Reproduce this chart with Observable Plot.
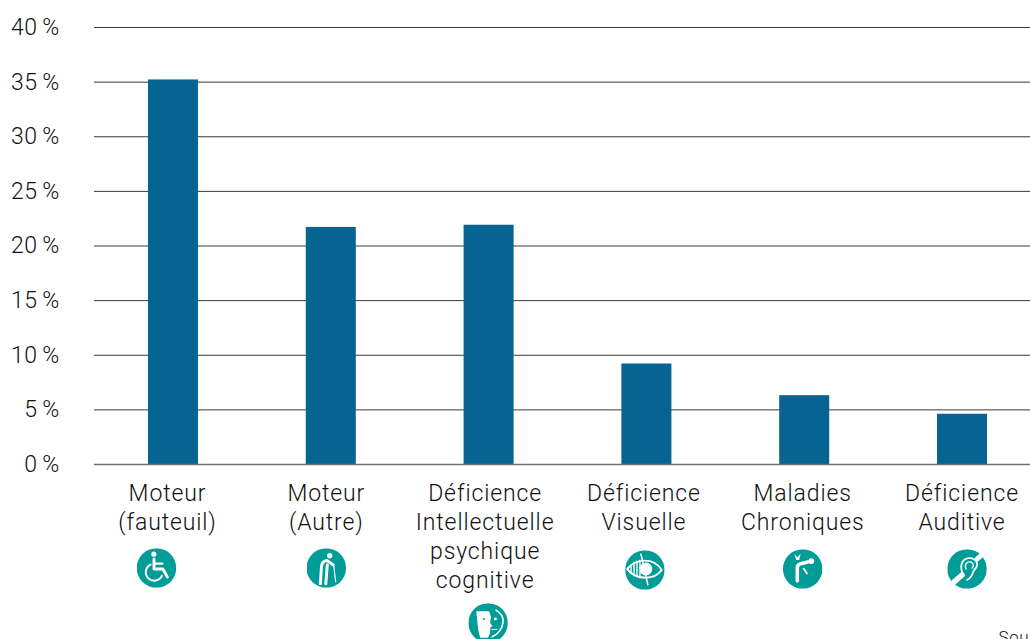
<!DOCTYPE html>
<html lang="fr">
<head>
<meta charset="utf-8">
<script src="https://cdn.jsdelivr.net/npm/d3@7"></script>
<script src="https://cdn.jsdelivr.net/npm/@observablehq/plot@0.6"></script>
<style>
  html, body { margin: 0; padding: 0; background: #fff; overflow: hidden; }
  svg { display: block; }
  .tick-text { letter-spacing: 0.3px; }
  .cat-text { letter-spacing: 0.88px; }
  .src-text { letter-spacing: 0.6px; }
</style>
</head>
<body>
<div id="chart"></div>
<script>
// Répartition par type de handicap
const categories = ["Moteur (fauteuil)", "Moteur (Autre)", "Déficience Intellectuelle", "Déficience Visuelle", "Maladies Chroniques", "Déficience Auditive"];
const labels = ["Moteur\n(fauteuil)", "Moteur\n(Autre)", "Déficience\nIntellectuelle\npsychique\ncognitive", "Déficience\nVisuelle", "Maladies\nChroniques", "Déficience\nAuditive"];
const values = [35.2, 21.7, 21.9, 9.2, 6.3, 4.6];
const yTicks = [0, 5, 10, 15, 20, 25, 30, 35, 40];

const rows = categories.map((category, i) => ({category, label: labels[i], value: values[i]}));

// Horizontal nudges of labels and pictograms relative to their bar
const labelNudge = [-6, -5, -4, -3, -2, -0.5];
const iconNudge = [-17, -5, -1, -2, -2, 4.5];
const iconDrop = [103.5, 103.5, 158.5, 105.5, 104.5, 104.5];

const teal = "#009c98";
const stroke = (d, w = 2) => `<path d="${d}" fill="none" stroke="#fff" stroke-width="${w}" stroke-linecap="round" stroke-linejoin="round"/>`;
const glyphs = [
  // fauteuil roulant
  `<circle cx="17.3" cy="6" r="2.6" fill="#fff"/>` + stroke("M17.5 11V21H26.5L31 29", 3) + stroke("M18 15.5H26", 2.2) + stroke("M14 16.5A8.6 8.6 0 1 0 25.5 28", 2),
  // personne avec canne
  `<circle cx="23.5" cy="7.5" r="2.7" fill="#fff"/>` + stroke("M14 36L15 20Q15 13 21 12.5L27 17", 3) + stroke("M21 17L19.5 36", 3) + stroke("M27.5 17L29.5 34", 1.2),
  // visage, masque et profil
  `<path d="M8 8H21L23 14L22 20L24.5 23L22 25V30L20 35H12L10 27Z" fill="#fff"/>` + stroke("M28 7C33 10 36 15 35 20C34 26 30 32 24 34", 1.6) + `<circle cx="27.4" cy="16" r="1.5" fill="#fff"/><circle cx="15.7" cy="16" r="1.1" fill="${teal}"/>` + stroke("M17 26.5H22", 1) + stroke("M24 26.5H29", 1),
  // œil barré
  stroke("M2 19C11 8 29 7 37 20C29 31 11 30 2 19Z", 2) + `<circle cx="21" cy="19" r="6.5" fill="#fff"/>` + stroke("M6 15V23M9 12V26M12 11V27M15 10V28", 1.4) + stroke("M16 4L23 35", 1.6),
  // douleur, silhouette penchée
  `<circle cx="28.7" cy="12" r="3" fill="#fff"/>` + stroke("M14.5 32V19Q14.5 15 19 14.5L25 13", 3.6) + stroke("M21 19.6L24.3 24.6", 1.8) + `<path d="M11.5 5L14.5 8L18 4.5L16.5 11H13.5Z" fill="#fff"/>`,
  // oreille barrée
  stroke("M16 26C13 19 13 11 21 9C29 8 33 15 28 20C25 23 26 29 20 31", 1.8) + stroke("M19 20C17 15 20 12 24 13C27 14 27 18 25 19", 1.4) + stroke("M7 33L15 26", 5.5) + stroke("M30 10L36 5", 5)
];

const iconHref = (glyph) =>
  "data:image/svg+xml," + encodeURIComponent(
    `<svg xmlns="http://www.w3.org/2000/svg" viewBox="0 0 40 40"><circle cx="20" cy="20" r="20" fill="${teal}"/>${glyph}</svg>`
  );

const font = "Roboto, sans-serif";

const chart = Plot.plot({
  width: 1030,
  height: 639,
  marginLeft: 94,
  marginRight: -11,
  marginTop: 27,
  marginBottom: 175,
  style: {background: "#fff", fontFamily: font, overflow: "hidden"},
  x: {domain: categories, paddingInner: 0.683, paddingOuter: 0.342, align: 0.5, round: false, axis: null},
  y: {domain: [0, 40], axis: null},
  marks: [
    Plot.ruleY(yTicks.filter((t) => t > 0), {stroke: "#3a3a3a", strokeWidth: 1}),
    Plot.barY(rows, {x: "category", y: "value", fill: "#056491"}),
    Plot.ruleY([0], {stroke: "#6f6f6f", strokeWidth: 1.5}),
    Plot.axisY({
      ticks: yTicks,
      tickSize: 0,
      anchor: "left",
      label: null,
      tickPadding: 35,
      tickFormat: (d) => `${d}\u2009%`,
      fontSize: 23,
      fontWeight: 300,
      className: "tick-text",
      fill: "#111",
      fontFamily: font
    }),
    // Étiquettes de catégories et pictogrammes
    ...rows.map((row, i) => Plot.text([row], {
      x: "category",
      y: 0,
      text: "label",
      dx: labelNudge[i],
      dy: 16,
      lineAnchor: "top",
      lineHeight: 1.26,
      fontSize: 23,
      fontWeight: 300,
      className: "cat-text",
      fill: "#111",
      fontFamily: font
    })),
    ...rows.map((row, i) => Plot.image([row], {
      x: "category",
      y: 0,
      src: () => iconHref(glyphs[i]),
      width: 39.5,
      height: 39.5,
      dx: iconNudge[i],
      dy: iconDrop[i]
    })),
    // Début de la mention de source, coupée au bas de la page
    Plot.text(["Sou"], {
      frameAnchor: "bottom-right",
      textAnchor: "start",
      dx: -43,
      dy: 178,
      fontSize: 17,
      fontWeight: 300,
      className: "src-text",
      fill: "#111",
      fontFamily: font
    })
  ]
});

document.getElementById("chart").append(chart);
</script>
</body>
</html>
